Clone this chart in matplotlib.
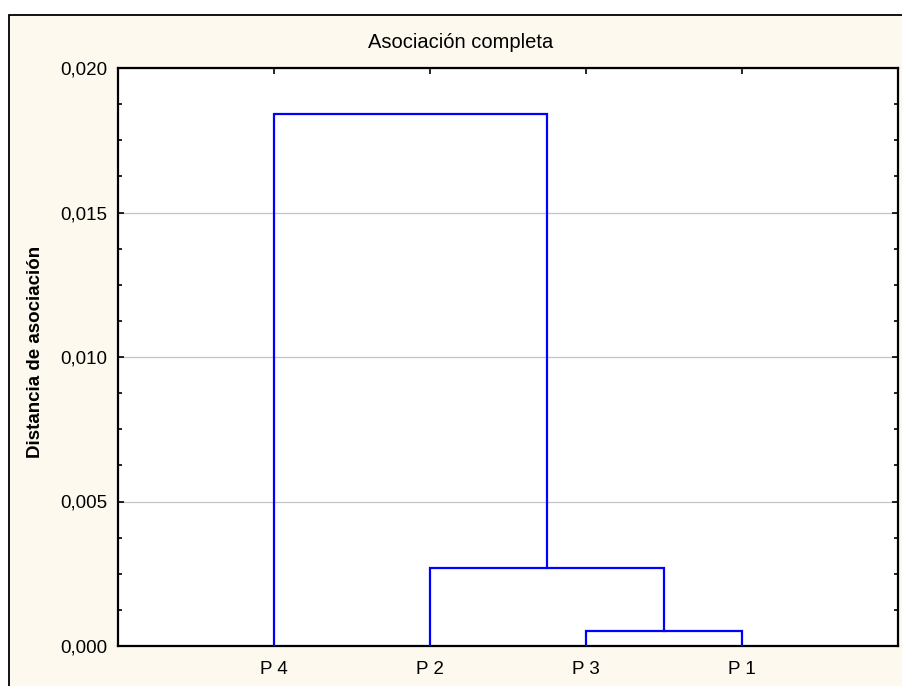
import matplotlib
matplotlib.use("Agg")
import matplotlib.pyplot as plt
from matplotlib.patches import Rectangle
from matplotlib.ticker import FixedLocator, AutoMinorLocator, FuncFormatter

plt.rcParams['font.family'] = ['Liberation Sans', 'DejaVu Sans']

# Hojas en el orden del dendrograma y las uniones (a, b, distancia)
leaves = ['P 4', 'P 2', 'P 3', 'P 1']
merges = [
    ('P 3', 'P 1', 0.00052),
    ('P 2', 'C1', 0.00271),
    ('P 4', 'C2', 0.01841),
]
y_ticks = [0.000, 0.005, 0.010, 0.015, 0.020]

title = 'Asociación completa'
ylabel = 'Distancia de asociación'

cream = '#fdf9ef'
line_color = '#0000ff'

fig = plt.figure(figsize=(9.03, 6.86), dpi=100, facecolor='white')
fig.patches.append(Rectangle((9 / 903, -0.05), 1.1, 0.05 + (686 - 15) / 686,
                             transform=fig.transFigure, facecolor=cream,
                             edgecolor='black', linewidth=1.3, zorder=-10))

ax = fig.add_axes([118 / 903, 40 / 686, 780 / 903, 578 / 686])
ax.set_facecolor('white')

# posiciones x y alturas de cada nodo
pos = {name: i + 1 for i, name in enumerate(leaves)}
height = {name: 0.0 for name in leaves}
for k, (a, b, d) in enumerate(merges, start=1):
    xa, xb = pos[a], pos[b]
    ax.plot([xa, xa, xb, xb], [height[a], d, d, height[b]],
            color=line_color, linewidth=1.6, solid_joinstyle='miter', zorder=3)
    pos['C%d' % k] = (xa + xb) / 2
    height['C%d' % k] = d

ax.set_xlim(0, len(leaves) + 1)
ax.set_ylim(0, 0.020)
ax.xaxis.set_major_locator(FixedLocator(range(1, len(leaves) + 1)))
ax.set_xticklabels(leaves, fontsize=13.5)
ax.yaxis.set_major_locator(FixedLocator(y_ticks))
ax.yaxis.set_minor_locator(AutoMinorLocator(4))
ax.yaxis.set_major_formatter(FuncFormatter(lambda v, p: ('%.3f' % v).replace('.', ',')))
ax.tick_params(axis='y', labelsize=13.5)

ax.tick_params(which='both', direction='in', top=True, right=True, color='black', width=1.2)
ax.tick_params(which='major', length=4)
ax.tick_params(axis='y', which='major', pad=8)
ax.tick_params(axis='x', which='major', pad=11)
ax.tick_params(which='minor', length=3)
ax.grid(axis='y', color='#c4c4c4', linewidth=0.9)
ax.set_axisbelow(True)
for s in ax.spines.values():
    s.set_linewidth(1.6)
    s.set_color('black')

fig.text(461 / 903, 1 - 43 / 686, title, ha='center', va='center', fontsize=14.5)
fig.text(36 / 903, 1 - 352 / 686, ylabel, ha='center', va='center',
         rotation=90, fontsize=13.5, fontweight='bold')

fig.savefig('out.png', dpi=100, facecolor=fig.get_facecolor())
